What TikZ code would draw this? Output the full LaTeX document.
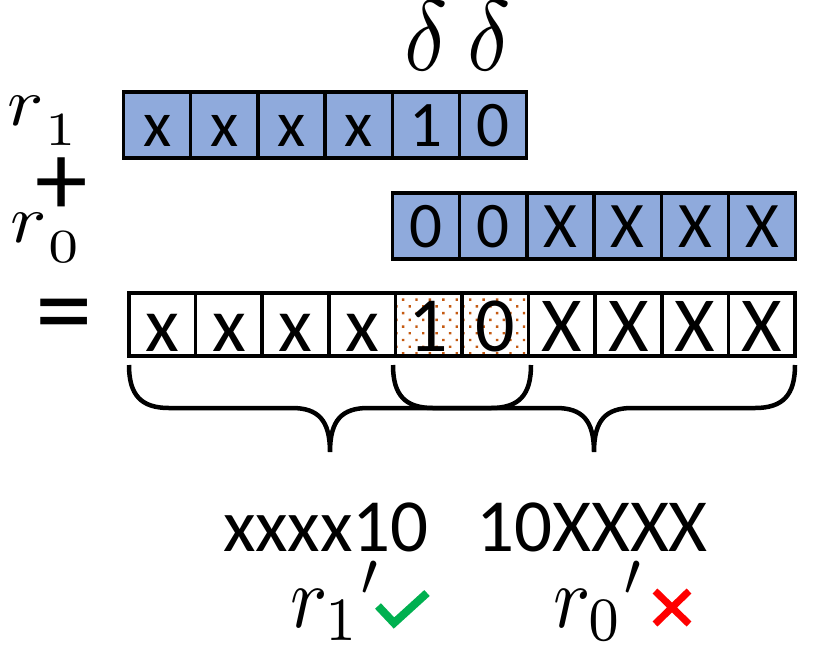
\documentclass[tikz,border=0pt]{standalone}
\usepackage{fontspec}
\usepackage{graphicx}
\newfontfamily\cellfont{Carlito}
\usetikzlibrary{patterns.meta}

\definecolor{cellblue}{RGB}{143,170,220}
\definecolor{dotorange}{RGB}{197,90,17}
\definecolor{okgreen}{RGB}{0,176,80}

\newcommand{\lowr}[1]{$r\kern0.02em\lower0.3em\hbox{$\scriptstyle #1$}$}

\tikzset{
  cell/.style={draw, line width=3.5pt, inner sep=0pt, outer sep=0pt,
    minimum width=67.2pt, minimum height=66pt, text height=43pt, text depth=0pt,
    font=\cellfont\fontsize{65}{70}\selectfont},
  bluecell/.style={cell, fill=cellblue},
  sumcell/.style={cell, minimum width=66.6pt, minimum height=63pt, text height=53pt,
    font=\cellfont\fontsize{78}{80}\selectfont},
  plain/.style={},
  speckle/.style={pattern={Dots[radius=1.7pt,distance=9.5pt,angle=45]}, pattern color=dotorange},
  mathlabel/.style={anchor=base west, inner sep=0pt},
  word/.style={anchor=base, inner sep=0pt, font=\cellfont\fontsize{75}{80}\selectfont},
  brace/.style={line width=4.5pt},
}

\begin{document}
\begin{tikzpicture}[x=1pt,y=-1pt]
  \path[fill=white] (0,0) rectangle (830,649);
  \useasboundingbox (0,0) rectangle (830,649);

  % r_1 row
  \foreach \t [count=\i] in {x,x,x,x,1,0}
    \node[bluecell] (a\i) at ({123.5+67.2*(\i-0.5)},125) {\t};
  % r_0 row
  \foreach \t [count=\i] in {0,0,X,X,X,X}
    \node[bluecell] (b\i) at ({392.5+67.2*(\i-0.5)},226) {\t};
  % sum row
  \foreach \t/\s [count=\i] in {x/plain,x/plain,x/plain,x/plain,1/speckle,0/speckle,X/plain,X/plain,X/plain,X/plain}
    \node[sumcell,\s] (c\i) at ({129+66.6*(\i-0.5)},324.5) {\t};

  \node[mathlabel] (r1) at (7,125) {\scalebox{7.6}[6.8]{\lowr{1}}};
  \node[inner sep=0pt, font=\cellfont\fontsize{105}{110}\selectfont] (plus) at (62,187) {+};
  \node[mathlabel] (r0) at (10,242) {\scalebox{7.6}[6.8]{\lowr{0}}};
  \node[inner sep=0pt, font=\cellfont\fontsize{115}{120}\selectfont] (eq) at (64,324) {=};

  \node[anchor=base, inner sep=0pt] (d1) at (426,70) {\scalebox{9}[10]{$\delta$}};
  \node[anchor=base, inner sep=0pt] (d2) at (489,70) {\scalebox{9}[10]{$\delta$}};

  % braces
  \draw[brace] (129,365) .. controls (129,395) and (141,408) .. (169,408) -- (292,408)
    .. controls (318,408) and (330,420) .. (330,452)
    .. controls (330,420) and (342,408) .. (368,408) -- (491,408)
    .. controls (519,408) and (531,395) .. (531,365);
  \draw[brace] (393,365) .. controls (393,395) and (405,408) .. (433,408) -- (556,408)
    .. controls (582,408) and (594,420) .. (594,452)
    .. controls (594,420) and (606,408) .. (632,408) -- (755,408)
    .. controls (783,408) and (795,395) .. (795,365);

  \node[word] (w1) at (326,551) {xxxx10};
  \node[word] (w0) at (592,551) {10XXXX};

  \node[mathlabel] (r1p) at (290,627) {\scalebox{7.8}[8.8]{${r_1}'$}};
  \node[mathlabel] (r0p) at (553,627) {\scalebox{7.8}[8.8]{${r_0}'$}};

  \draw[okgreen, line width=8pt] (378,606) -- (394,623) -- (427,593);
  \draw[red, line width=7pt] (655,591) -- (689,624) (655,624) -- (689,591);
\end{tikzpicture}
\end{document}
